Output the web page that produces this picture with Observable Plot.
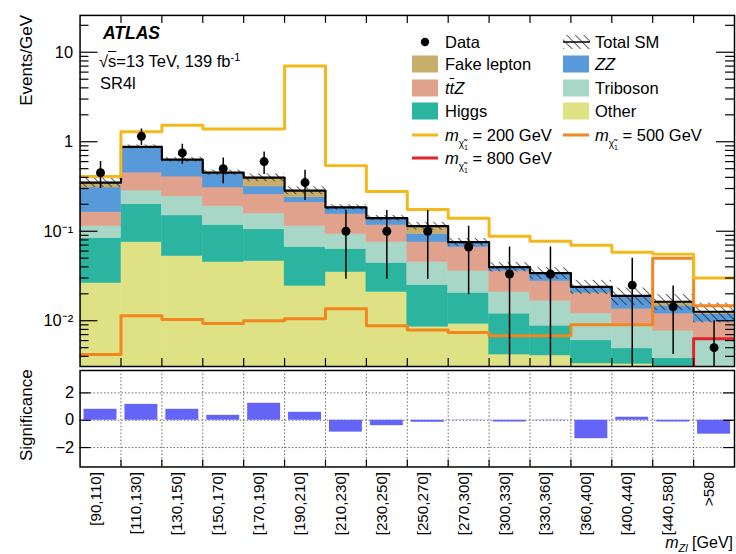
<!DOCTYPE html>
<html><head><meta charset="utf-8">
<script src="https://cdn.jsdelivr.net/npm/d3@7"></script>
<script src="https://cdn.jsdelivr.net/npm/@observablehq/plot@0.6"></script>
<style>
body{margin:0;overflow:hidden;background:#fff;font-family:"Liberation Sans",Arial,Helvetica,sans-serif;}
#wrap{position:relative;width:736px;height:554px;overflow:hidden;}
#main,#sig{position:absolute;left:0;}
#main{top:0}
#sig{top:369px}
.t{position:absolute;font-size:16.5px;line-height:1;color:#000;white-space:nowrap;}
.sw{position:absolute;}
sub,sup{line-height:0;}
</style></head><body>
<svg width="0" height="0" style="position:absolute"><defs>
<pattern id="hatch" patternUnits="userSpaceOnUse" width="6" height="6" patternTransform="rotate(-45)"><line x1="0" y1="0" x2="0" y2="6" stroke="#1a1a1a" stroke-width="1.4"/></pattern>
</defs></svg>
<div id="wrap"><div id="main"></div><div id="sig"></div></div>
<script>
// ---------- data (Events/GeV) ----------
const bins = ["[90,110]","[110,130]","[130,150]","[150,170]","[170,190]","[190,210]","[210,230]","[230,250]","[250,270]","[270,300]","[300,330]","[330,360]","[360,400]","[400,440]","[440,580]",">580"];
const other    = [0.0264,0.0755,0.0528,0.0452,0.0464,0.0245,0.035,0.021,0.00858,0.00926,0.00419,0.00409,0.00333,0.0033,0.003,0.001];
const higgs    = [0.0572,0.1245,0.0972,0.0718,0.0586,0.0419,0.028,0.0231,0.0165,0.0112,0.0078,0.0047,0.0027,0.0016,0.0008,0.0005];
const triboson = [0.0304,0.085,0.095,0.073,0.053,0.0476,0.0296,0.0314,0.0201,0.0155,0.009,0.0079,0.006,0.0039,0.0039,0.0048];
const ttZ      = [0.049,0.167,0.163,0.118,0.10,0.096,0.0624,0.0415,0.0303,0.0304,0.015,0.0111,0.0085,0.0048,0.0043,0.00345];
const zz       = [0.145,0.40,0.208,0.13,0.058,0.029,0.03,0.023,0.0171,0.0091,0.0038,0.0063,0.0034,0.0054,0.0027,0.00215];
const fake     = [0.042,0.025,0.015,0.014,0.082,0.046,0,0,0.0214,0,0,0,0,0,0.0016,0.0007];
const sysRel   = [0.12,0.05,0.06,0.07,0.1,0.1,0.07,0.07,0.1,0.1,0.12,0.15,0.18,0.22,0.2,0.25];
const dataVal  = [0.45,1.15,0.75,0.5,0.6,0.35,0.1,0.1,0.1,0.0667,0.0333,0.0333,0,0.025,0.0143,0.005];
const dataLo   = [0.30,0.91,0.56,0.34,0.43,0.22,0.029,0.029,0.029,0.0195,0,0,0,0,0.0042,0];
const dataHi   = [0.60,1.39,0.94,0.66,0.77,0.48,0.171,0.171,0.171,0.114,0.0667,0.0667,0,0.05,0.0244,0.01];
const sig200   = [0.408,1.29,1.53,1.39,1.39,7.0,0.541,0.278,0.175,0.14,0.088,0.0774,0.0699,0.0584,0.0555,0.03];
const sig500   = [0.0042,0.0114,0.0103,0.0093,0.01,0.0105,0.0136,0.0088,0.0079,0.0074,0.0068,0.0068,0.009,0.009,0.05,0.0147];
const sig800   = [0.003,0.003,0.003,0.003,0.003,0.003,0.003,0.003,0.003,0.003,0.003,0.003,0.003,0.003,0.003,0.0063];
const significance = [0.8,1.16,0.8,0.36,1.24,0.58,-0.87,-0.4,-0.15,-0.02,-0.13,-0.03,-1.35,0.22,-0.13,-1.02];

const components = [
  {name:"Other", vals:other, color:"#dee184"},
  {name:"Higgs", vals:higgs, color:"#2bb5a0"},
  {name:"Triboson", vals:triboson, color:"#a9d7c7"},
  {name:"ttZ", vals:ttZ, color:"#e1a28d"},
  {name:"ZZ", vals:zz, color:"#5799d9"},
  {name:"Fake lepton", vals:fake, color:"#c9ae6b"}
];
const C200="#f4b81a", C500="#f2861f", C800="#e3232a", CSIG="#6464f7";

// ---------- layout ----------
const W = 740, L = 80, R = 2;
const frameW = W - L - R;
const yMin = 0.00308, yMax = 25.8;
const n = bins.length;
const idx = d3.range(n);

// stacks
const base = 1e-6;
const cum = idx.map(() => base);
const stackMarks = components.map(c => {
  const rows = idx.map(i => { const y1 = cum[i]; cum[i] += c.vals[i]; return {i, y1, y2: cum[i]}; });
  return Plot.rectY(rows, {x1: d => d.i, x2: d => d.i + 1, y1: "y1", y2: "y2", fill: c.color, stroke: c.color, strokeWidth: 0.5, clip: true});
});
const total = idx.map(i => components.reduce((s, c) => s + c.vals[i], 0));
const step = vals => idx.flatMap(i => [{x: i, y: vals[i]}, {x: i + 1, y: vals[i]}]);

const majorY = [0.01, 0.1, 1, 10];
const minorY = [];
for (let e = -3; e <= 1; e++) for (let m = 2; m <= 9; m++) { const v = m * Math.pow(10, e); if (v > yMin && v < yMax) minorY.push(v); }
const supMap = {"-1":"⁻¹","-2":"⁻²"};
const fmtY = d => d >= 1 ? String(d) : "10" + supMap[String(Math.round(Math.log10(d)))];
const edges = d3.range(1, n);
const frameHMain = 368 - 15;

const main = Plot.plot({
  width: W, height: 369, marginLeft: L, marginRight: R, marginTop: 15, marginBottom: 1,
  x: {domain: [0, n], axis: null},
  y: {type: "log", domain: [yMin, yMax], axis: null},
  style: {background: "transparent", overflow: "visible", fontFamily: "Liberation Sans, Arial, sans-serif"},
  marks: [
    ...stackMarks,
    Plot.rectY(idx, {x1: i => i, x2: i => i + 1, y1: i => total[i] * (1 - sysRel[i]), y2: i => total[i] * (1 + sysRel[i]), fill: "url(#hatch)", clip: true}),
    Plot.line(step(total), {x: "x", y: "y", stroke: "#000", strokeWidth: 2.2, clip: true}),
    Plot.line(step(sig800), {x: "x", y: "y", stroke: C800, strokeWidth: 3, clip: true}),
    Plot.line(step(sig500), {x: "x", y: "y", stroke: C500, strokeWidth: 3, clip: true}),
    Plot.line(step(sig200), {x: "x", y: "y", stroke: C200, strokeWidth: 3, clip: true}),
    Plot.ruleX(idx.filter(i => dataHi[i] > 0), {x: i => i + 0.5, y1: i => Math.max(dataLo[i], yMin * 0.5), y2: i => dataHi[i], stroke: "#000", strokeWidth: 1.5, clip: true}),
    Plot.dot(idx.filter(i => dataVal[i] > 0), {x: i => i + 0.5, y: i => dataVal[i], r: 4.5, fill: "#000", stroke: "none"}),
    // y ticks (inside, both sides)
    Plot.ruleY(majorY, {y: d => d, insetRight: frameW - 18, stroke: "#000", strokeWidth: 1.2}),
    Plot.ruleY(minorY, {y: d => d, insetRight: frameW - 9, stroke: "#000", strokeWidth: 1.2}),
    Plot.ruleY(majorY, {y: d => d, insetLeft: frameW - 18, stroke: "#000", strokeWidth: 1.2}),
    Plot.ruleY(minorY, {y: d => d, insetLeft: frameW - 9, stroke: "#000", strokeWidth: 1.2}),
    // x ticks (inside, top and bottom)
    Plot.ruleX(edges, {x: d => d, insetBottom: frameHMain - 8, stroke: "#000", strokeWidth: 1.2}),
    Plot.ruleX(edges, {x: d => d, insetTop: frameHMain - 8, stroke: "#000", strokeWidth: 1.2}),
    Plot.text(majorY, {y: d => d, text: fmtY, frameAnchor: "left", dx: -7, textAnchor: "end", fontSize: 16.5, fill: "#000"}),
    Plot.frame({stroke: "#000", strokeWidth: 1.5})
  ]
});
document.getElementById("main").append(main);

// ---------- significance panel ----------
const sigTicks = [2, 0, -2];
const frameHSig = 97;
const sigPlot = Plot.plot({
  width: W, height: 185, marginLeft: L, marginRight: R, marginTop: 1, marginBottom: 87,
  x: {domain: [0, n], axis: null},
  y: {domain: [-3.42, 3.64], axis: null},
  style: {background: "transparent", overflow: "visible", fontFamily: "Liberation Sans, Arial, sans-serif"},
  marks: [
    Plot.ruleY(sigTicks, {y: d => d, stroke: "#666", strokeWidth: 1, strokeDasharray: "1.5,2"}),
    Plot.ruleX(edges, {x: d => d, stroke: "#666", strokeWidth: 1, strokeDasharray: "1.5,2"}),
    Plot.rectY(idx, {x1: i => i, x2: i => i + 1, y1: 0, y2: i => significance[i], fill: CSIG, insetLeft: 4, insetRight: 4}),
    Plot.ruleY(sigTicks, {y: d => d, insetRight: frameW - 11, stroke: "#000", strokeWidth: 1.2}),
    Plot.ruleY(sigTicks, {y: d => d, insetLeft: frameW - 11, stroke: "#000", strokeWidth: 1.2}),
    Plot.ruleX(edges, {x: d => d, insetTop: frameHSig - 7, stroke: "#000", strokeWidth: 1.2}),
    Plot.text(sigTicks, {y: d => d, text: d => d < 0 ? "−" + Math.abs(d) : String(d), frameAnchor: "left", dx: -6, textAnchor: "end", fontSize: 16.5, fill: "#000"}),
    Plot.text(idx, {x: i => i + 0.5, text: i => bins[i], frameAnchor: "bottom", dy: 5, rotate: -90, textAnchor: "end", fontSize: 15.3, fill: "#000"}),
    Plot.frame({stroke: "#000", strokeWidth: 1.5})
  ]
});
document.getElementById("sig").append(sigPlot);

// ---------- annotations & legend ----------
const wrap = document.getElementById("wrap");
function addText(html, x, y, extra) {
  const d = document.createElement("div");
  d.className = "t"; d.innerHTML = html;
  d.style.left = x + "px"; d.style.top = y + "px";
  if (extra) Object.assign(d.style, extra);
  wrap.append(d); return d;
}
addText("<b><i>ATLAS</i></b>", 103, 25, {fontSize: "17.5px"});
addText("√<span style='text-decoration:overline'>s</span>=13 TeV, 139 fb<sup style='font-size:11px'>-1</sup>", 99, 53);
addText("SR4l", 100, 74.5);
addText("Events/GeV", 18, 15, {writingMode: "vertical-rl", transform: "rotate(180deg)", fontSize: "17px"});
addText("Significance", 18, 365, {writingMode: "vertical-rl", transform: "rotate(180deg)", fontSize: "17px", height: "100px", textAlign: "center"});
addText("<i>m</i><sub style='font-size:11px'><i>Zl</i></sub> [GeV]", null, 535, {fontSize: "16px", left: "auto", right: "3px"});

const mchi = m => `<i>m</i><sub style="font-size:10px;position:relative;top:2px">χ̃<sub style="font-size:7px">1</sub></sub> = ${m} GeV`;
const legend = [
  {col:0, row:0, kind:"dot", label:"Data"},
  {col:1, row:0, kind:"hatch", label:"Total SM"},
  {col:0, row:1, kind:"box", color: components[5].color, label:"Fake lepton"},
  {col:1, row:1, kind:"box", color: components[4].color, label:"<i>ZZ</i>"},
  {col:0, row:2, kind:"box", color: components[3].color, label:"<i>t<span style='text-decoration:overline'>t</span>Z</i>"},
  {col:1, row:2, kind:"box", color: components[2].color, label:"Triboson"},
  {col:0, row:3, kind:"box", color: components[1].color, label:"Higgs"},
  {col:1, row:3, kind:"box", color: components[0].color, label:"Other"},
  {col:0, row:4, kind:"line", color: C200, label: mchi(200)},
  {col:1, row:4, kind:"line", color: C500, label: mchi(500)},
  {col:0, row:5, kind:"line", color: C800, label: mchi(800)}
];
const rowY = [42, 64, 88, 111, 135, 158];
const swX = [412, 563], txX = [445, 595];
for (const e of legend) {
  const cy = rowY[e.row], sx = swX[e.col];
  const s = document.createElementNS("http://www.w3.org/2000/svg", "svg");
  s.setAttribute("width", 28); s.setAttribute("height", 20);
  s.setAttribute("class", "sw");
  s.style.left = sx + "px"; s.style.top = (cy - 10) + "px";
  let inner = "";
  if (e.kind === "dot") inner = `<circle cx="13" cy="10" r="4.2" fill="#000"/>`;
  else if (e.kind === "box") inner = `<rect x="0" y="1.5" width="26" height="17" fill="${e.color}"/>`;
  else if (e.kind === "line") inner = `<line x1="0" x2="26" y1="10" y2="10" stroke="${e.color}" stroke-width="3"/>`;
  else inner = `<rect x="0" y="3" width="27" height="14" fill="url(#hatch)"/><line x1="0" x2="27" y1="10" y2="10" stroke="#000" stroke-width="1.5"/>`;
  s.innerHTML = inner;
  wrap.append(s);
  addText(e.label, txX[e.col], cy - 8.5);
}
</script>
</body></html>
